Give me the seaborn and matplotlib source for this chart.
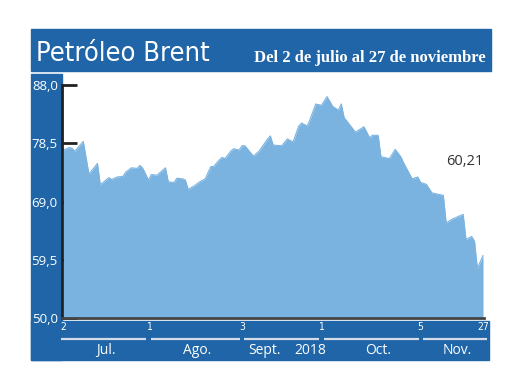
import pandas as pd
import seaborn as sns
import matplotlib.pyplot as plt
from matplotlib.patches import Rectangle
import matplotlib.transforms as mtransforms

#--Data: Brent close (Jul 2 - Nov 27, 2018)--#
dates = ['2018-07-02', '2018-07-04', '2018-07-05', '2018-07-06', '2018-07-09', '2018-07-11',
         '2018-07-14', '2018-07-15', '2018-07-16', '2018-07-18', '2018-07-19', '2018-07-21',
         '2018-07-23', '2018-07-24', '2018-07-26', '2018-07-28', '2018-07-29', '2018-07-30',
         '2018-08-01', '2018-08-02', '2018-08-04', '2018-08-05', '2018-08-07', '2018-08-08',
         '2018-08-10', '2018-08-11', '2018-08-13', '2018-08-14', '2018-08-15', '2018-08-17',
         '2018-08-19', '2018-08-21', '2018-08-23', '2018-08-24', '2018-08-26', '2018-08-27',
         '2018-08-28', '2018-08-30', '2018-08-31', '2018-09-02', '2018-09-03', '2018-09-04',
         '2018-09-07', '2018-09-09', '2018-09-12', '2018-09-13', '2018-09-14', '2018-09-17',
         '2018-09-19', '2018-09-21', '2018-09-23', '2018-09-24', '2018-09-26', '2018-09-27',
         '2018-09-29', '2018-10-01', '2018-10-03', '2018-10-05', '2018-10-07', '2018-10-08',
         '2018-10-09', '2018-10-13', '2018-10-16', '2018-10-18', '2018-10-19', '2018-10-21',
         '2018-10-22', '2018-10-25', '2018-10-27', '2018-10-29', '2018-10-30', '2018-11-02',
         '2018-11-04', '2018-11-05', '2018-11-07', '2018-11-09', '2018-11-13', '2018-11-14',
         '2018-11-16', '2018-11-18', '2018-11-20', '2018-11-21', '2018-11-23', '2018-11-24',
         '2018-11-25', '2018-11-27']
price = [77.4, 77.8, 77.7, 77.2, 78.8, 73.5, 75.2, 71.8, 72.1, 72.9, 72.6, 73.0,
         73.1, 73.8, 74.5, 74.4, 74.9, 74.4, 72.5, 73.4, 73.3, 73.7, 74.5, 72.2,
         72.1, 72.8, 72.7, 72.5, 71.0, 71.5, 72.2, 72.7, 74.7, 74.7, 75.8, 76.2,
         76.0, 77.2, 77.6, 77.4, 78.1, 78.1, 76.4, 77.2, 79.2, 79.7, 78.2, 78.1,
         79.2, 78.7, 81.3, 81.8, 81.3, 82.4, 84.9, 84.7, 86.1, 84.5, 83.9, 84.9,
         82.7, 80.3, 81.2, 79.4, 79.8, 79.8, 76.3, 76.0, 77.5, 76.3, 75.3, 72.7,
         73.0, 72.1, 71.8, 70.4, 70.0, 65.5, 66.1, 66.5, 66.9, 62.8, 63.3, 62.5,
         58.1, 60.21]

y_ticks = [50.0, 59.5, 69.0, 78.5, 88.0]
y_labels = ['50,0', '59,5', '69,0', '78,5', '88,0']
x_ticks = ['2018-07-02', '2018-08-01', '2018-09-03', '2018-10-01', '2018-11-05', '2018-11-27']
x_labels = ['2', '1', '3', '1', '5', '27']
month_labels = ['Jul.', 'Ago.', 'Sept.', '2018', 'Oct.', 'Nov.']
month_pos = ['2018-07-17', '2018-08-18', '2018-09-11', '2018-09-27', '2018-10-21', '2018-11-18']
last_label = '60,21'

df = pd.DataFrame({'fecha': pd.to_datetime(dates), 'precio': price})
x_ticks = pd.to_datetime(x_ticks)
month_pos = pd.to_datetime(month_pos)

#--Colours--#
BLUE = '#1f65a7'
FILL = '#7bb3e0'

sns.set_style('white')
plt.rcParams['font.family'] = ['Open Sans', 'DejaVu Sans']

fig = plt.figure(figsize=(5.2, 3.9), dpi=100)

#--blue frame pieces behind the chart--#
fig.patches.append(Rectangle((0.0596, 0.8179), 0.8846, 0.1077, transform=fig.transFigure,
                             color=BLUE, zorder=0))
fig.patches.append(Rectangle((0.0596, 0.0769), 0.0600, 0.7333, transform=fig.transFigure,
                             color=BLUE, zorder=0))
fig.patches.append(Rectangle((0.0596, 0.0769), 0.8808, 0.1000, transform=fig.transFigure,
                             color=BLUE, zorder=0))

fig.text(0.069, 0.8436, 'Petróleo Brent', color='white', fontsize=19.5,
         family='DejaVu Sans', fontstretch='condensed', va='baseline', ha='left')
fig.text(0.934, 0.8420, 'Del 2 de julio al 27 de noviembre', color='white', fontsize=12,
         family=['Liberation Serif', 'DejaVu Serif'], fontweight='bold', va='baseline', ha='right')

ax = fig.add_axes([0.1192, 0.1846, 0.8115, 0.5974])
ax.set_zorder(2)
ax.patch.set_alpha(0)

sns.lineplot(data=df, x='fecha', y='precio', color=FILL, linewidth=0.8, ax=ax, zorder=3)
ax.fill_between(df['fecha'], df['precio'], 50, color=FILL, linewidth=0, zorder=3)

ax.set_xlim(df['fecha'].iloc[0] - pd.Timedelta(hours=12),
            df['fecha'].iloc[-1] + pd.Timedelta(hours=8))
ax.set_ylim(50, 88)

ax.set_yticks(y_ticks)
ax.set_yticklabels(y_labels, color='white', fontsize=9.5)
ax.tick_params(axis='y', direction='in', length=11, width=2, color='#222222', pad=3, left=True)

ax.set_xticks(x_ticks)
ax.set_xticklabels(x_labels, color='white', fontsize=7.5,
                   family='DejaVu Sans', fontstretch='condensed')
ax.tick_params(axis='x', length=0, pad=3)

ax.set_xlabel('')
ax.set_ylabel('')
for side in ['top', 'right']:
    ax.spines[side].set_visible(False)
ax.spines['left'].set_color('#222222')
ax.spines['left'].set_linewidth(2)
ax.spines['bottom'].set_color('#444444')
ax.spines['bottom'].set_linewidth(2)
ax.spines['left'].set_zorder(4)
ax.spines['bottom'].set_zorder(4)

#--separator lines and month names under the axis--#
trans = mtransforms.blended_transform_factory(ax.transData, ax.transAxes)
gap = pd.Timedelta(hours=18)
for i in range(len(x_ticks) - 1):
    start = x_ticks[i] + (gap if i > 0 else -gap)
    end = x_ticks[i + 1] - gap if i < len(x_ticks) - 2 else x_ticks[i + 1] + pd.Timedelta(days=1.3)
    ax.plot([start, end], [-0.088, -0.088], transform=trans, color='#d5dbe8',
            linewidth=1.6, clip_on=False, solid_capstyle='butt')

for lab, pos in zip(month_labels, month_pos):
    ax.text(pos, -0.138, lab, transform=trans, color='white', fontsize=10,
            ha='center', va='center')

ax.text(df['fecha'].iloc[-1], 0.67, last_label, transform=trans, color='#333333',
        fontsize=10.5, ha='right', va='center')

fig.savefig('out.png', dpi=100)
